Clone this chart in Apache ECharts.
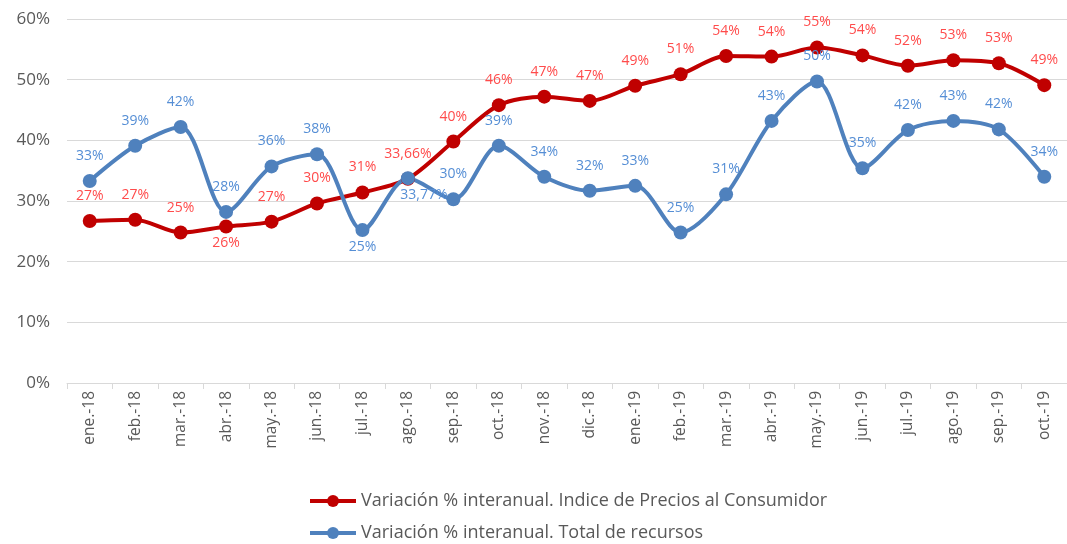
<!DOCTYPE html>
<html>
<head>
<meta charset="utf-8">
<script src="https://cdn.jsdelivr.net/npm/echarts@6/dist/echarts.min.js"></script>
<style>
  html, body { margin: 0; padding: 0; background: #fff; }
  #main { width: 1067px; height: 544px; }
</style>
</head>
<body>
<div id="main"></div>
<script>
// meses
const categories = [
  "ene.-18", "feb.-18", "mar.-18", "abr.-18", "may.-18", "jun.-18", "jul.-18",
  "ago.-18", "sep.-18", "oct.-18", "nov.-18", "dic.-18", "ene.-19", "feb.-19",
  "mar.-19", "abr.-19", "may.-19", "jun.-19", "jul.-19", "ago.-19", "sep.-19", "oct.-19"
];
// Variación % interanual IPC
const ipcValues = [
  26.7, 26.9, 24.8, 25.8, 26.6, 29.6, 31.4, 33.66, 39.8, 45.8, 47.2,
  46.5, 49.0, 50.9, 53.9, 53.8, 55.3, 54.0, 52.3, 53.2, 52.7, 49.1
];
// Variación % interanual total de recursos
const recursosValues = [
  33.3, 39.1, 42.2, 28.2, 35.7, 37.7, 25.2, 33.77, 30.3, 39.1, 34.0,
  31.7, 32.5, 24.8, 31.1, 43.2, 49.7, 35.4, 41.7, 43.2, 41.8, 34.0
];
const yTicks = [0, 10, 20, 30, 40, 50, 60];
const seriesNames = [
  "Variación % interanual. Indice de Precios al Consumidor",
  "Variación % interanual. Total de recursos"
];
// puntos que se muestran con dos decimales
const detailedIdx = [7];

const myChart = echarts.init(document.getElementById("main"));

function fmt(p) {
  if (detailedIdx.indexOf(p.dataIndex) >= 0) {
    return p.value.toFixed(2).replace(".", ",") + "%";
  }
  return Math.round(p.value) + "%";
}

// etiquetas que van debajo del punto
function buildData(values, below, extra) {
  return values.map((v, i) => {
    const item = { value: v };
    if (below.indexOf(i) >= 0) {
      item.label = { position: "bottom", distance: 3 };
    }
    if (extra && extra[i]) item.label = Object.assign(item.label || {}, extra[i]);
    return item;
  });
}

// una leyenda por fila
function legendRow(name, top) {
  return {
    left: 303,
    top: top,
    itemWidth: 46,
    itemHeight: 15,
    lineStyle: { width: 4 },
    textStyle: { color: "#595959", fontSize: 18, fontFamily: "Open Sans" },
    data: [name]
  };
}

const option = {
  animation: false,
  grid: { left: 67, right: 0, top: 19, bottom: 161 },
  xAxis: {
    type: "category",
    data: categories,
    boundaryGap: true,
    axisLine: { lineStyle: { color: "#d9d9d9", width: 1 } },
    axisTick: { show: true, length: 6, lineStyle: { color: "#d9d9d9" } },
    axisLabel: {
      rotate: 90,
      color: "#595959",
      fontSize: 15.5,
      fontFamily: "Open Sans",
      margin: 8,
      interval: 0
    }
  },
  yAxis: {
    type: "value",
    min: yTicks[0],
    max: yTicks[yTicks.length - 1],
    interval: 10,
    axisLine: { show: false },
    axisTick: { show: false },
    splitLine: { lineStyle: { color: "#d9d9d9", width: 1 } },
    axisLabel: {
      color: "#595959",
      fontSize: 17,
      fontFamily: "Open Sans",
      margin: 17,
      formatter: "{value}%"
    }
  },
  legend: [legendRow(seriesNames[0], 487), legendRow(seriesNames[1], 519)],
  series: [
    {
      name: seriesNames[0],
      type: "line",
      smooth: 0.3,
      data: buildData(ipcValues, [3]),
      symbol: "circle",
      symbolSize: 14,
      lineStyle: { color: "#C00000", width: 4 },
      itemStyle: { color: "#C00000" },
      label: {
        show: true,
        position: "top",
        distance: 11,
        color: "#FF4B4B",
        fontSize: 14,
        fontFamily: "Open Sans",
        formatter: fmt
      }
    },
    {
      name: seriesNames[1],
      type: "line",
      smooth: 0.3,
      data: buildData(recursosValues, [6, 7], { 7: { offset: [16, 0] } }),
      symbol: "circle",
      symbolSize: 14,
      lineStyle: { color: "#4F81BD", width: 4 },
      itemStyle: { color: "#4F81BD" },
      label: {
        show: true,
        position: "top",
        distance: 11,
        color: "#558ED5",
        fontSize: 14,
        fontFamily: "Open Sans",
        formatter: fmt
      }
    }
  ]
};

myChart.setOption(option);
</script>
</body>
</html>
